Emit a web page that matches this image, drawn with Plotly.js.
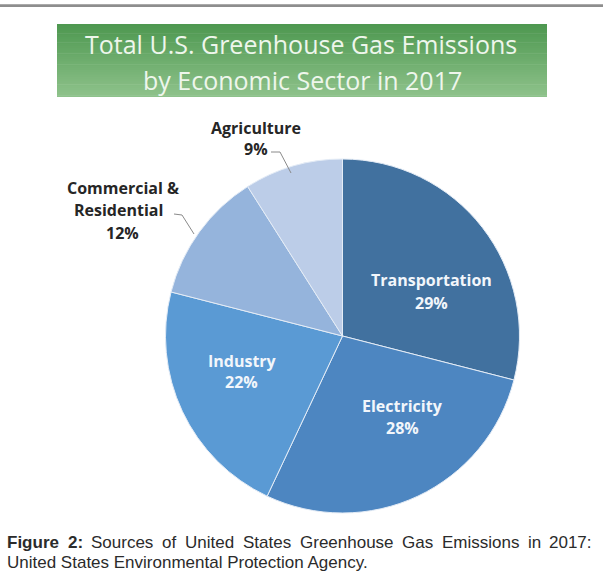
<!DOCTYPE html>
<html>
<head>
<meta charset="utf-8">
<script src="https://cdn.plot.ly/plotly-3.0.1.min.js"></script>
<style>html,body{margin:0;padding:0;background:#fff;}#chart{width:603px;height:583px;}</style>
</head>
<body>
<div id="chart"></div>
<script>
// ---- data ----
const categories = ["Transportation", "Electricity", "Industry", "Commercial & Residential", "Agriculture"];
const shares = [29, 28, 22, 12, 9];
const labelLines = [["Transportation"], ["Electricity"], ["Industry"], ["Commercial &", "Residential"], ["Agriculture"]];
const sliceColors = ["#41719f", "#4d86c1", "#5a9ad4", "#95b4dc", "#bccde8"];
const titleLines = ["Total U.S. Greenhouse Gas Emissions", "by Economic Sector in 2017"];
const captionBold = "Figure 2:";
const captionLine1 = "Sources of United States Greenhouse Gas Emissions in 2017:";
const captionLine2 = "United States Environmental Protection Agency.";

// ---- layout helpers (pixel -> paper) ----
const W = 603, H = 583;
const px = x => x / W;
const py = y => 1 - y / H;

// label placement (pixel centres of each text line) and style
const labelPlacement = [
  {inside: true,  pts: [[431, 280], [431, 303]]},
  {inside: true,  pts: [[402, 406], [402, 428]]},
  {inside: true,  pts: [[242, 361], [241, 382]]},
  {inside: false, pts: [[123, 188], [118, 210], [122, 233]]},
  {inside: false, pts: [[256, 128], [256, 149]]}
];

const annotations = [];
const shapes = [];

// slice labels
categories.forEach((c, i) => {
  const lines = labelLines[i].concat([shares[i] + "%"]);
  const pl = labelPlacement[i];
  lines.forEach((t, k) => {
    annotations.push({
      text: t, xref: "paper", yref: "paper",
      x: px(pl.pts[k][0]), y: py(pl.pts[k][1]),
      xanchor: "center", yanchor: "middle", showarrow: false,
      font: {family: "Open Sans", size: 16, weight: 700, color: pl.inside ? "#f2f6fb" : "#262626"}
    });
  });
});

// leader lines
const leaders = [
  [[271, 152], [280, 152], [291, 173]],
  [[174, 214], [182, 215], [194, 234]]
];
leaders.forEach(L => {
  shapes.push({
    type: "path", xref: "paper", yref: "paper",
    path: "M" + L.map(p => px(p[0]) + "," + py(p[1])).join(" L"),
    line: {color: "#8a8a8a", width: 1}
  });
});

// top border line
shapes.push({type: "rect", xref: "paper", yref: "paper", x0: 0, x1: 1, y0: py(7), y1: py(4.3),
  fillcolor: "#8e8e8e", line: {width: 0}, layer: "below"});

// title banner with vertical gradient (strips)
const bx0 = 57, bx1 = 547, by0 = 24, by1 = 97;
const gTop = [78, 152, 80], gBot = [142, 194, 139];
const N = 40;
for (let s = 0; s < N; s++) {
  const f = s / (N - 1);
  const col = "rgb(" + gTop.map((v, j) => Math.round(v + (gBot[j] - v) * f)).join(",") + ")";
  const ya = by0 + (by1 - by0) * s / N, yb = by0 + (by1 - by0) * (s + 1) / N + 0.6;
  shapes.push({type: "rect", xref: "paper", yref: "paper", x0: px(bx0), x1: px(bx1),
    y0: py(Math.min(yb, by1)), y1: py(ya), fillcolor: col, line: {width: 0}, layer: "below"});
}
annotations.push({text: titleLines[0], xref: "paper", yref: "paper", x: px(301), y: py(44),
  xanchor: "center", yanchor: "middle", showarrow: false,
  font: {family: "Open Sans", size: 25, weight: 500, color: "#eef6ec"}});
annotations.push({text: titleLines[1], xref: "paper", yref: "paper", x: px(302), y: py(80),
  xanchor: "center", yanchor: "middle", showarrow: false,
  font: {family: "Open Sans", size: 25, weight: 500, color: "#eef6ec"}});

// caption (justified first line)
const capFs = 17;
const cv = document.createElement("canvas").getContext("2d");
const measure = (t, fs, bold) => { cv.font = (bold ? "bold " : "") + fs + "px 'Liberation Sans'"; return cv.measureText(t).width; };
const capColor = "#2b2b2b";
const words = captionBold.split(" ").map(w => ({w, b: true})).concat(captionLine1.split(" ").map(w => ({w, b: false})));
const widths = words.map(o => measure(o.w, capFs, o.b));
const totalW = widths.reduce((a, b) => a + b, 0);
const capLeft = 7, capRight = 592;
const gap = (capRight - capLeft - totalW) / (words.length - 1);
let cx = capLeft;
words.forEach((o, i) => {
  annotations.push({text: o.b ? "<b>" + o.w + "</b>" : o.w, xref: "paper", yref: "paper",
    x: px(cx - 2), y: py(542.5), xanchor: "left", yanchor: "middle", showarrow: false,
    font: {family: "Liberation Sans", size: capFs, color: capColor}});
  cx += widths[i] + gap;
});
annotations.push({text: captionLine2, xref: "paper", yref: "paper",
  x: px(capLeft - 2), y: py(562.5), xanchor: "left", yanchor: "middle", showarrow: false,
  font: {family: "Liberation Sans", size: capFs, color: capColor}});

// pie geometry
const pcx = 342.5, pcy = 336, R = 177;
const trace = {
  type: "pie", labels: categories, values: shares, sort: false, direction: "clockwise", rotation: 0,
  marker: {colors: sliceColors, line: {color: "#e4ecf6", width: 1}},
  textinfo: "none", hoverinfo: "skip",
  domain: {x: [px(pcx - R), px(pcx + R)], y: [py(pcy + R), py(pcy - R)]}
};

const layout = {
  width: W, height: H, margin: {l: 0, r: 0, t: 0, b: 0},
  paper_bgcolor: "#ffffff", showlegend: false,
  annotations, shapes
};
Plotly.newPlot("chart", [trace], layout, {displayModeBar: false, staticPlot: true});
</script>
</body>
</html>
